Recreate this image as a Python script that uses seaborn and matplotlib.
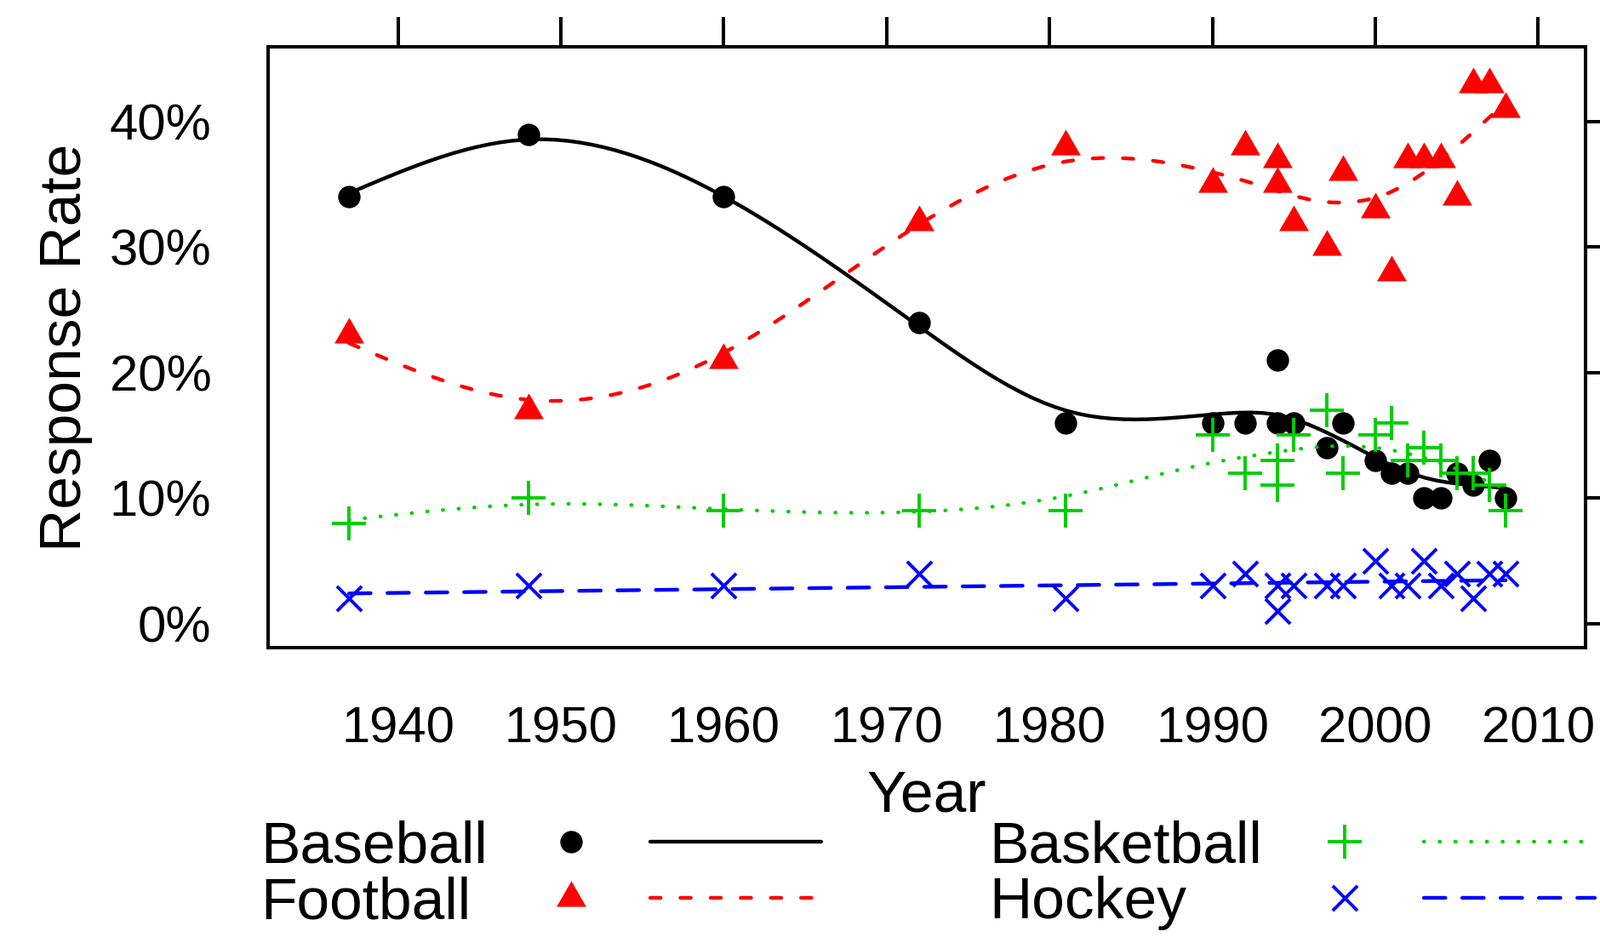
import numpy as np
import pandas as pd
import matplotlib
matplotlib.use("Agg")
import matplotlib.pyplot as plt
import seaborn as sns

# Survey data: favourite sport to watch
years = [1937, 1948, 1960, 1972, 1981, 1990, 1992, 1994, 1994, 1995, 1997,
         1998, 2000, 2001, 2002, 2003, 2004, 2005, 2006, 2007, 2008]
baseball = [34, 39, 34, 24, 16, 16, 16, 21, 16, 16, 14, 16, 13, 12, 12, 10, 10, 12, 11, 13, 10]
basketball = [8, 10, 9, 9, 9, 15, 12, 13, 11, 15, 17, 12, 15, 16, 13, 14, 13, 12, 12, 11, 9]
football = [23, 17, 21, 32, 38, 35, 38, 37, 35, 32, 30, 36, 33, 28, 37, 37, 37, 34, 43, 43, 41]
hockey = [2, 3, 3, 4, 2, 3, 4, 3, 1, 3, 3, 3, 5, 3, 3, 5, 3, 4, 2, 4, 4]

sports = ["Baseball", "Basketball", "Football", "Hockey"]
xticks = [1940, 1950, 1960, 1970, 1980, 1990, 2000, 2010]
yticks = [0, 10, 20, 30, 40]
ytick_labels = ["0%", "10%", "20%", "30%", "40%"]

df = pd.DataFrame({
    "Year": years * 4,
    "Rate": baseball + basketball + football + hockey,
    "Sport": np.repeat(sports, len(years)),
})


def smooth_spline(x, y, npoints=101):
    # cubic smoothing spline, smoothing chosen by GCV (like R smooth.spline)
    x = np.asarray(x, float)
    y = np.asarray(y, float)
    ux, inv = np.unique(x, return_inverse=True)
    w = np.bincount(inv).astype(float)
    ybar = np.bincount(inv, weights=y) / w
    ssw = np.sum((y - ybar[inv]) ** 2)
    n = len(ux)
    h = np.diff(ux)
    Q = np.zeros((n, n - 2))
    R = np.zeros((n - 2, n - 2))
    for j in range(1, n - 1):
        Q[j - 1, j - 1] = 1 / h[j - 1]
        Q[j, j - 1] = -1 / h[j - 1] - 1 / h[j]
        Q[j + 1, j - 1] = 1 / h[j]
        R[j - 1, j - 1] = (h[j - 1] + h[j]) / 3
        if j < n - 2:
            R[j - 1, j] = R[j, j - 1] = h[j] / 6
    K = Q @ np.linalg.solve(R, Q.T)
    W = np.diag(w)
    N = len(x)
    best = None
    for lam in np.logspace(-3, 9, 1200):
        S = np.linalg.solve(W + lam * K, W)
        g = S @ ybar
        df_ = np.trace(S)
        rss = ssw + np.sum(w * (ybar - g) ** 2)
        crit = (rss / N) / (1 - df_ / N) ** 2
        if best is None or crit < best[0]:
            best = (crit, g)
    g = best[1]
    gam = np.concatenate([[0], np.linalg.solve(R, Q.T @ g), [0]])
    xs = np.linspace(ux[0], ux[-1], npoints)
    i = np.clip(np.searchsorted(ux, xs, side="right") - 1, 0, n - 2)
    hi = h[i]
    a = xs - ux[i]
    b = ux[i + 1] - xs
    ys = (a * g[i + 1] + b * g[i]) / hi - a * b / 6 * (
        (1 + a / hi) * gam[i + 1] + (1 + b / hi) * gam[i])
    return xs, ys


sns.set_style("white")
plt.rcParams["font.family"] = ["Liberation Sans", "DejaVu Sans"]
plt.rcParams["text.color"] = "black"
plt.rcParams["xtick.color"] = "black"
plt.rcParams["ytick.color"] = "black"
plt.rcParams["axes.labelcolor"] = "black"

colors = {"Baseball": "#000000", "Basketball": "#00CD00",
          "Football": "#FF0000", "Hockey": "#0000FF"}
tri = [(0, 1), (-0.866, -0.5), (0.866, -0.5)]
point_style = {
    "Baseball": dict(marker="o", s=360, linewidth=0),
    "Basketball": dict(marker="+", s=870, linewidth=2.8),
    "Football": dict(marker=tri, s=841, linewidth=0),
    "Hockey": dict(marker="x", s=441, linewidth=2.8),
}
line_style = {
    "Baseball": "-",
    "Basketball": (0, (0.12, 4.1)),
    "Football": (0, (2.8, 5.3)),
    "Hockey": (0, (5.8, 4.5)),
}
LW = 3.15

fig = plt.figure(figsize=(18.8, 11.01), dpi=100)
ax = fig.add_axes([315 / 1880, 1 - 761 / 1101, 1548 / 1880, 706 / 1101])

for k, sport in enumerate(sports):
    sub = df[df["Sport"] == sport]
    sns.scatterplot(data=sub, x="Year", y="Rate", color=colors[sport],
                    ax=ax, legend=False, zorder=3 + 2 * k, **point_style[sport])
    xs, ys = smooth_spline(sub["Year"], sub["Rate"])
    sns.lineplot(x=xs, y=ys, ax=ax, color=colors[sport], lw=LW,
                 linestyle=line_style[sport], dash_capstyle="round",
                 solid_capstyle="round", estimator=None, sort=False,
                 zorder=4 + 2 * k)

ax.set_xlim(1932.03, 2012.9)
ax.set_ylim(-1.92, 45.95)
ax.set_xticks(xticks)
ax.set_yticks(yticks)
ax.set_yticklabels(ytick_labels)
ax.set_xlabel("")
ax.set_ylabel("")
ax.tick_params(axis="both", direction="out", length=25, width=2.9,
               labelsize=43, top=True, right=True, color="black",
               labelcolor="black")
ax.tick_params(axis="x", pad=24)
ax.tick_params(axis="y", pad=23)
for sp in ax.spines.values():
    sp.set_linewidth(2.9)
    sp.set_color("black")

fig.text(1089 / 1880, 1 - 953 / 1101, "Year", fontsize=50,
         ha="center", va="baseline")
fig.text(95 / 1880, 1 - 408 / 1101, "Response Rate", fontsize=50, rotation=90,
         rotation_mode="anchor", ha="center", va="baseline")

# key below the plot: label, point, line in two columns
kax = fig.add_axes([0, 0, 1, 1])
kax.set_xlim(0, 1880)
kax.set_ylim(1101, 0)
kax.axis("off")
# (text x, row y, point x, line start, line end) in pixels
key_pos = {
    "Baseball": (306, 989, 671, 764, 965),
    "Football": (306, 1055, 671, 764, 965),
    "Basketball": (1162, 989, 1580, 1673, 1874),
    "Hockey": (1162, 1055, 1580, 1673, 1874),
}
for sport in sports:
    tx, ty, px, l0, l1 = key_pos[sport]
    kax.text(tx, ty + 24, sport, fontsize=50, ha="left", va="baseline")
    st = point_style[sport]
    kax.scatter([px], [ty], color=colors[sport], marker=st["marker"],
                s=st["s"], linewidths=st["linewidth"])
    kax.plot([l0, l1], [ty, ty], color=colors[sport], lw=LW,
             linestyle=line_style[sport], dash_capstyle="round",
             solid_capstyle="round")

fig.savefig("out.png", dpi=100)
